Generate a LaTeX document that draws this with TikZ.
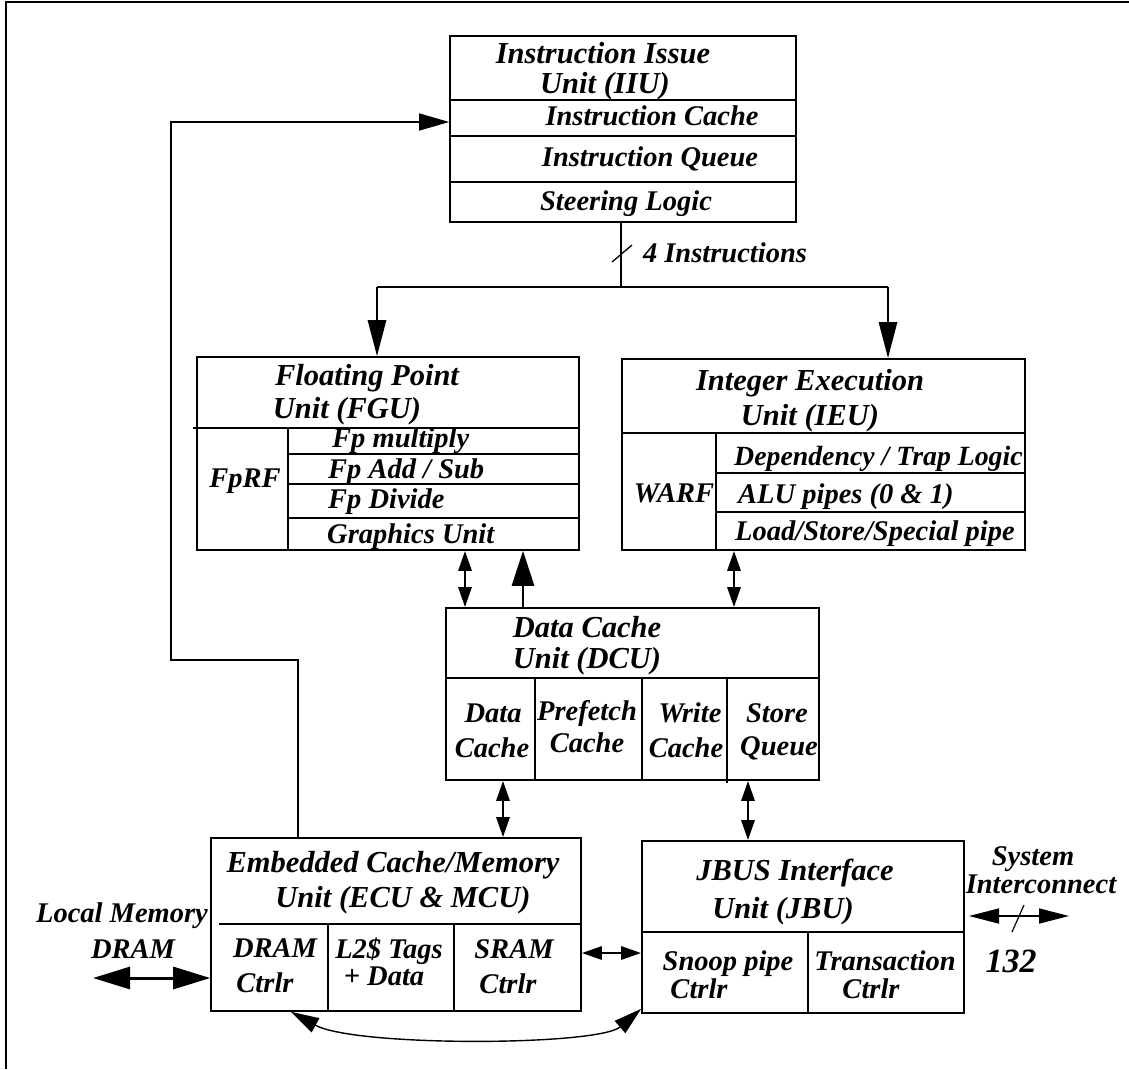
\documentclass[tikz,border=0pt]{standalone}
\usepackage{fontspec}
\setmainfont{Liberation Serif}
\usetikzlibrary{arrows.meta}
\newcommand\ttlfont{\fontsize{30.5}{32}\selectfont\bfseries\itshape}
\newcommand\itmfont{\fontsize{28.5}{30}\selectfont\bfseries\itshape}
\tikzset{
  box/.style={draw, line width=1.6pt, inner sep=0pt, rectangle},
  divider/.style={line width=1.3pt},
  ttl/.style={font=\ttlfont, inner sep=0pt, anchor=base},
  itm/.style={font=\itmfont, inner sep=0pt, anchor=base},
  itmw/.style={font=\itmfont, inner sep=0pt, anchor=base west},
  bus/.style={line width=2.8pt},
  bigtip/.style={-{Triangle[length=36pt,width=18pt]}},
  dbl/.style={line width=2.8pt, {Triangle[length=20pt,width=13pt]}-{Triangle[length=20pt,width=13pt]}},
  fb/.style={line width=1.3pt, -{Triangle[length=30pt,width=17pt]}},
}
\begin{document}
\begin{tikzpicture}[x=1pt,y=-1pt]
\useasboundingbox (0,0) rectangle (1129,1069);
% outer frame (top and left edges)
\draw[line width=2pt] (6,1069) -- (6,1.5) -- (1129,1.5);

% unit boxes
\node[box, minimum width=346pt, minimum height=186pt] (iiu) at (623,129) {};
\node[box, minimum width=382pt, minimum height=193pt] (fgu) at (388,453.5) {};
\node[box, minimum width=403pt, minimum height=191pt] (ieu) at (823.5,454.5) {};
\node[box, minimum width=373pt, minimum height=172pt] (dcu) at (632.5,694) {};
\node[box, minimum width=370pt, minimum height=173pt] (ecu) at (396,924.5) {};
\node[box, minimum width=322pt, minimum height=172pt] (jbu) at (803,927) {};

% internal divisions
\draw[divider] (450,100) -- (796,100) (450,136) -- (796,136) (450,182) -- (796,182);
\draw[divider] (193,428) -- (579,428) (288,428) -- (288,550)
  (288,454) -- (579,454) (288,484) -- (579,484) (288,518) -- (579,518);
\draw[divider] (622,433) -- (1026,433) (716,433) -- (716,550)
  (716,473) -- (1026,473) (716,512) -- (1026,512);
\draw[divider] (446,678) -- (819,678) (535,678) -- (535,780)
  (642,678) -- (642,780) (727,678) -- (727,783);
\draw[divider] (219,924) -- (581,924) (328,924) -- (328,1011) (454,924) -- (454,1011);
\draw[divider] (642,932) -- (964,932) (808,932) -- (808,1013);

% IIU labels
\node[ttl] (t-iiu1) at (603,63) {Instruction Issue};
\node[ttl] (t-iiu2) at (605,93) {Unit (IIU)};
\node[itm] (t-icache) at (652,125) {Instruction Cache};
\node[itm] (t-iqueue) at (650,166) {Instruction Queue};
\node[itm] (t-steer) at (626,210) {Steering Logic};
\node[itm] (t-4i) at (725,262) {4 Instructions};

% FGU labels
\node[ttl] (t-fgu1) at (367,385) {Floating Point};
\node[ttl] (t-fgu2) at (347,418) {Unit (FGU)};
\node[itm] (t-fprf) at (245,487) {FpRF};
\node[itmw] (t-fpm) at (332,447) {Fp multiply};
\node[itmw] (t-fpa) at (328,478) {Fp Add / Sub};
\node[itmw] (t-fpd) at (328,508) {Fp Divide};
\node[itmw] (t-gfx) at (327,543) {Graphics Unit};

% IEU labels
\node[ttl] (t-ieu1) at (810,390) {Integer Execution};
\node[ttl] (t-ieu2) at (810,425) {Unit (IEU)};
\node[itm] (t-warf) at (674,502) {WARF};
\node[itmw, font=\fontsize{27.8}{30}\selectfont\bfseries\itshape] (t-dep) at (734,465) {Dependency / Trap Logic};
\node[itmw] (t-alu) at (738,503) {ALU pipes (0 \& 1)};
\node[itmw] (t-ls) at (735,540) {Load/Store/Special pipe};

% DCU labels
\node[ttl] (t-dcu1) at (587,637) {Data Cache};
\node[ttl] (t-dcu2) at (587,668) {Unit (DCU)};
\node[itm] (t-dc1) at (493,722) {Data};
\node[itm] (t-dc2) at (492,757) {Cache};
\node[itm] (t-pf1) at (587,720) {Prefetch};
\node[itm] (t-pf2) at (587,752) {Cache};
\node[itm] (t-wc1) at (690,722) {Write};
\node[itm] (t-wc2) at (686,757) {Cache};
\node[itm] (t-sq1) at (777,722) {Store};
\node[itm] (t-sq2) at (779,755) {Queue};

% ECU labels
\node[ttl] (t-ecu1) at (393,872) {Embedded Cache/Memory};
\node[ttl] (t-ecu2) at (403,907) {Unit (ECU \& MCU)};
\node[itm] (t-dr1) at (275,957) {DRAM};
\node[itm] (t-dr2) at (265,992) {Ctrlr};
\node[itm] (t-l21) at (389,958) {L2\$ Tags};
\node[itm] (t-l22) at (384,985) {+ Data};
\node[itm] (t-sr1) at (514,958) {SRAM};
\node[itm] (t-sr2) at (508,993) {Ctrlr};
\node[itm] (t-lm1) at (122,922) {Local Memory};
\node[itm] (t-lm2) at (133,958) {DRAM};

% JBU labels
\node[ttl] (t-jbu1) at (795,880) {JBUS Interface};
\node[ttl] (t-jbu2) at (783,918) {Unit (JBU)};
\node[itm] (t-sp1) at (728,970) {Snoop pipe};
\node[itm] (t-sp2) at (699,998) {Ctrlr};
\node[itm] (t-tr1) at (885,970) {Transaction};
\node[itm] (t-tr2) at (871,998) {Ctrlr};
\node[itm] (t-si1) at (1033,865) {System};
\node[itm] (t-si2) at (1041,893) {Interconnect};
\node[itm, font=\fontsize{34}{36}\selectfont\bfseries\itshape] (t-132) at (1011,972) {132};

% instruction bus from the IIU to the FGU and IEU
\coordinate (busM) at (621,287);
\coordinate (busL) at (377,287);
\coordinate (busR) at (888,287);
\draw[bus] (iiu.south -| busM) -- (busM);
\draw[bus] (busL) -- (busR);
\draw[bus, bigtip] (busL) -- (busL |- fgu.north);
\draw[bus, bigtip] (busR) -- (busR |- ieu.north);
\draw[line width=1.3pt] (612,262) -- (632,245);

% fill path from the ECU back to the instruction cache
\draw[fb] (ecu.north -| 298,0) |- (171,660) |- (iiu.west |- 0,122);

% data paths around the DCU
\draw[dbl] (fgu.south -| 465,0) -- (dcu.north -| 465,0);
\draw[bus, -{Triangle[length=35pt,width=22pt]}] (dcu.north -| 523,0) -- (fgu.south -| 523,0);
\draw[dbl] (ieu.south -| 734,0) -- (dcu.north -| 734,0);
\draw[dbl] (dcu.south -| 503,0) -- (ecu.north -| 503,0);
\draw[dbl] (dcu.south -| 748,0) -- (jbu.north -| 748,0);

% ECU to JBU links
\draw[dbl] (ecu.east |- 0,953) -- (jbu.west |- 0,953);
\draw[line width=1.4pt, {Triangle[length=28pt,width=16pt]}-{Triangle[length=28pt,width=16pt]}]
  (ecu.south -| 291,0) .. controls (355,1047) and (598,1046) .. ([yshift=5pt]jbu.south west);

% off-chip interfaces
\coordinate (lm) at (93,978);
\draw[line width=3pt, {Triangle[length=37pt,width=22pt]}-{Triangle[length=37pt,width=22pt]}]
  (lm) -- (ecu.west |- lm);
\coordinate (siL) at (969,916);
\coordinate (siR) at (1069,916);
\draw[line width=1.6pt, {Triangle[length=30pt,width=15pt]}-{Triangle[length=30pt,width=15pt]}]
  (siL) -- (siR);
\draw[line width=1.2pt] (1012,932) -- (1024,905);
\end{tikzpicture}
\end{document}
